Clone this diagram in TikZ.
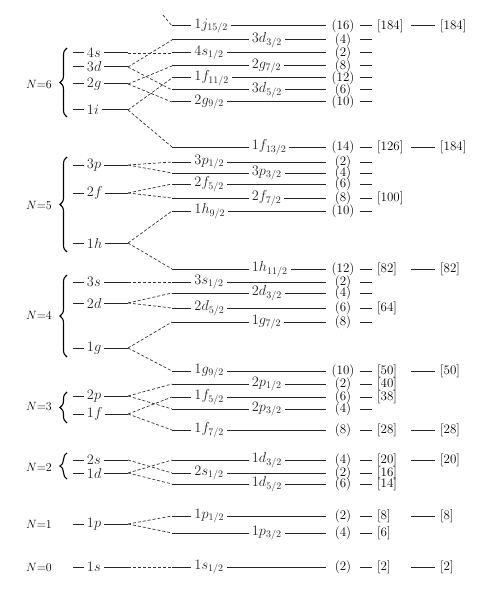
\documentclass[tikz,border=0pt]{standalone}
\usepackage{fontspec}
\usetikzlibrary{decorations.pathreplacing}

\begin{document}
\begin{tikzpicture}[x=1pt, y=-1pt,
  every node/.style={font=\fontsize{13}{15}\selectfont},
  shell/.style={line width=1pt, black!85},
  splitting/.style={dash pattern=on 3pt off 2pt, line width=0.7pt, black!80},
  lvl/.style={fill=white, anchor=west, inner xsep=3pt, inner ysep=0pt,
    font=\fontsize{14.4}{17}\selectfont},
  deg/.style={minimum width=33pt, inner xsep=2pt, inner ysep=0pt},
  magic/.style={anchor=west, inner xsep=5pt, inner ysep=0pt, text width=29pt, align=left},
  magictwo/.style={anchor=west, inner xsep=5pt, inner ysep=0pt},
  shellbrace/.style={decorate, decoration={brace, amplitude=7pt}, line width=1.1pt}]
\useasboundingbox (0,0) rectangle (490,599);
% oscillator shells, left column
\foreach \y/\id/\orb in {53/6-4s/4s, 67/6-3d/3d, 84/6-2g/2g, 110/6-1i/1i,
    165/5-3p/3p, 193/5-2f/2f, 243/5-1h/1h,
    282/4-3s/3s, 303/4-2d/2d, 348/4-1g/1g,
    396/3-2p/2p, 414/3-1f/1f,
    460/2-2s/2s, 473/2-1d/1d,
    524/1-1p/1p, 567/0-1s/1s}{
  \coordinate (A-\id) at (73,\y);
  \coordinate (L-\id) at (128,\y);
  \draw[shell] (A-\id) -- node[lvl, pos=.19] {$\orb$} (L-\id);
}
% shell labels and braces
\node (N6) at (39,84) {$N{=}6$};
\node (N5) at (39,205) {$N{=}5$};
\node (N4) at (39,315) {$N{=}4$};
\node (N3) at (39,406) {$N{=}3$};
\node (N2) at (39,467) {$N{=}2$};
\node (N1) at (39,524) {$N{=}1$};
\node (N0) at (39,567) {$N{=}0$};
\draw[shellbrace] (67,117) -- (67,48);
\draw[shellbrace] (67,252) -- (67,157);
\draw[shellbrace] (67,357) -- (67,275);
\draw[shellbrace] (67,423) -- (67,392);
\draw[shellbrace] (67,479) -- (67,453);
% spin-orbit levels, occupancy and magic numbers
\foreach \y/\id/\orb/\jj/\p/\deg/\ma/\mb in {
    26/1j15/1j/15/.123/16/184/184, 40/3d3/3d/3/.495/4/0/0,
    53/4s1/4s/1/.123/2/0/0, 66/2g7/2g/7/.495/8/0/0,
    78/1f11/1f/11/.123/12/0/0, 90/3d5/3d/5/.495/6/0/0,
    102/2g9/2g/9/.123/10/0/0, 147/1f13/1f/13/.495/14/126/184,
    162/3p1/3p/1/.123/2/0/0, 173/3p3/3p/3/.495/4/0/0,
    184/2f5/2f/5/.123/6/0/0, 198/2f7/2f/7/.495/8/100/0,
    211/1h9/1h/9/.123/10/0/0, 269/1h11/1h/11/.495/12/82/82,
    282/3s1/3s/1/.123/2/0/0, 293/2d3/2d/3/.495/4/0/0,
    308/2d5/2d/5/.123/6/64/0, 322/1g7/1g/7/.495/8/0/0,
    371/1g9/1g/9/.123/10/50/50,
    384/2p1/2p/1/.495/2/40/0, 397/1f5/1f/5/.123/6/38/0,
    409/2p3/2p/3/.495/4/0/0, 430/1f7/1f/7/.123/8/28/28,
    460/1d3/1d/3/.495/4/20/20, 473/2s1/2s/1/.123/2/16/0,
    484/1d5/1d/5/.495/6/14/0,
    516/1p1/1p/1/.123/2/8/8, 533/1p3/1p/3/.495/4/6/0,
    567/1s1/1s/1/.123/2/2/2}{
  \coordinate (R-\id) at (172,\y);
  \node[deg] (g-\id) at (343,\y) {(\deg)};
  \draw[shell] (R-\id) -- node[lvl, pos=\p] {$\orb_{\jj/2}$} (g-\id);
  \ifnum\ma>0\relax
    \node[magic] (m-\id) at (372,\y) {[\ma]};
    \draw[shell] (g-\id) -- (m-\id);
  \else
    \coordinate (e-\id) at (372,\y);
    \draw[shell] (g-\id) -- (e-\id);
  \fi
  \ifnum\mb>0\relax
    \node[magictwo] (k-\id) at (435,\y) {[\mb]};
    \draw[shell] (m-\id) -- (k-\id);
  \fi
}
% splitting
\coordinate (N7) at (163,15);
\draw[splitting] (N7) -- (R-1j15);
\foreach \a/\b in {6-4s/4s1, 6-3d/3d3, 6-3d/3d5, 6-2g/2g7, 6-2g/2g9,
    6-1i/1f11, 6-1i/1f13, 5-3p/3p1, 5-3p/3p3, 5-2f/2f5, 5-2f/2f7,
    5-1h/1h9, 5-1h/1h11, 4-3s/3s1, 4-2d/2d3, 4-2d/2d5, 4-1g/1g7, 4-1g/1g9,
    3-2p/2p1, 3-2p/2p3, 3-1f/1f5, 3-1f/1f7, 2-2s/2s1, 2-1d/1d3, 2-1d/1d5,
    1-1p/1p1, 1-1p/1p3, 0-1s/1s1}
  \draw[splitting] (L-\a) -- (R-\b);
\end{tikzpicture}
\end{document}
